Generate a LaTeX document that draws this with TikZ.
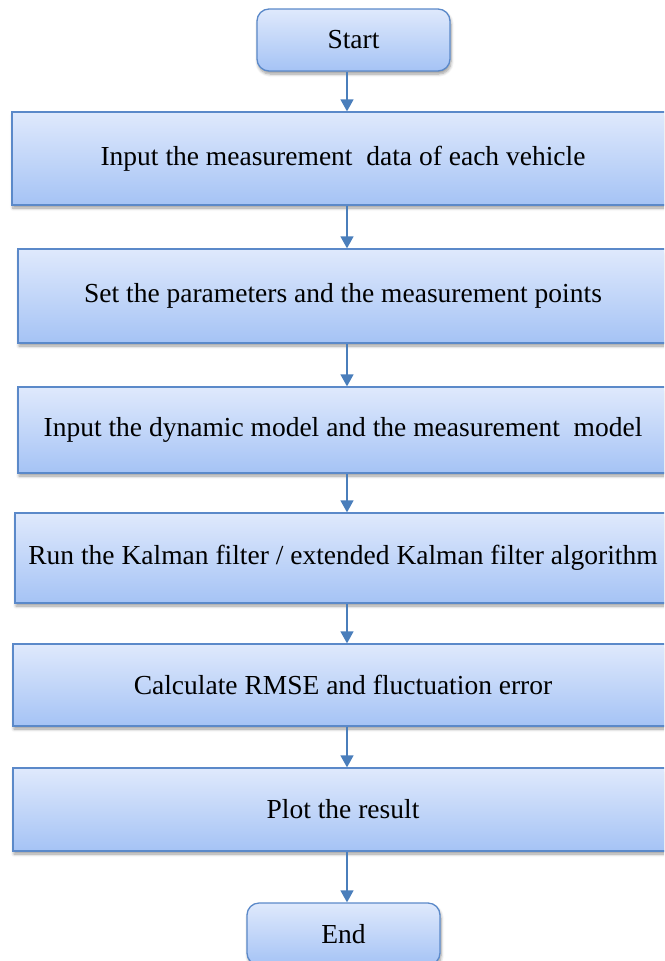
\documentclass[tikz,border=0pt]{standalone}
\usepackage{fontspec}
\setmainfont{Liberation Serif}
\usetikzlibrary{arrows.meta,shadows.blur}
\definecolor{boxtop}{HTML}{DFE9FC}
\definecolor{boxbot}{HTML}{A5C3F5}
\definecolor{boxline}{HTML}{5B89C9}
\definecolor{flowline}{HTML}{4A7EBB}
\tikzset{
  stepbox/.style={draw=boxline, line width=1.3pt, top color=boxtop, bottom color=boxbot,
    blur shadow={shadow xshift=1pt, shadow yshift=-3pt, shadow blur steps=6, shadow blur radius=3pt, shadow opacity=40},
    inner sep=0pt, font=\fontsize{27.5}{33}\selectfont},
  termbox/.style={stepbox, rounded corners=12pt, minimum width=193pt, minimum height=62pt},
  flow/.style={draw=flowline, line width=1.4pt, -{Triangle[length=12pt,width=13pt]}}
}
\begin{document}
\begin{tikzpicture}[x=1pt,y=-1pt]
\useasboundingbox (0,0) rectangle (664,961);
\clip (0,0) rectangle (664,961);
\node[termbox] (start) at (353.5,40) {Start};
\node[stepbox, minimum width=662pt, minimum height=93pt] (b1) at (343,158.5) {Input the measurement\ \ data of each vehicle};
\node[stepbox, minimum width=650pt, minimum height=94pt] (b2) at (343,296) {Set the parameters and the measurement points};
\node[stepbox, minimum width=650pt, minimum height=86pt] (b3) at (343,430) {Input the dynamic model and the measurement\ \ model};
\node[stepbox, minimum width=656pt, minimum height=90pt] (b4) at (343,558) {Run the Kalman filter / extended Kalman filter algorithm};
\node[stepbox, minimum width=660pt, minimum height=82pt] (b5) at (343,685) {Calculate RMSE and fluctuation error};
\node[stepbox, minimum width=660pt, minimum height=83pt] (b6) at (343,809.5) {Plot the result};
\node[termbox] (end) at (343.5,934) {End};
\coordinate (ax) at (347,0);
\draw[flow] (start.south -| ax) -- (b1.north -| ax);
\draw[flow] (b1.south -| ax) -- (b2.north -| ax);
\draw[flow] (b2.south -| ax) -- (b3.north -| ax);
\draw[flow] (b3.south -| ax) -- (b4.north -| ax);
\draw[flow] (b4.south -| ax) -- (b5.north -| ax);
\draw[flow] (b5.south -| ax) -- (b6.north -| ax);
\draw[flow] (b6.south -| ax) -- (end.north -| ax);
\end{tikzpicture}
\end{document}
